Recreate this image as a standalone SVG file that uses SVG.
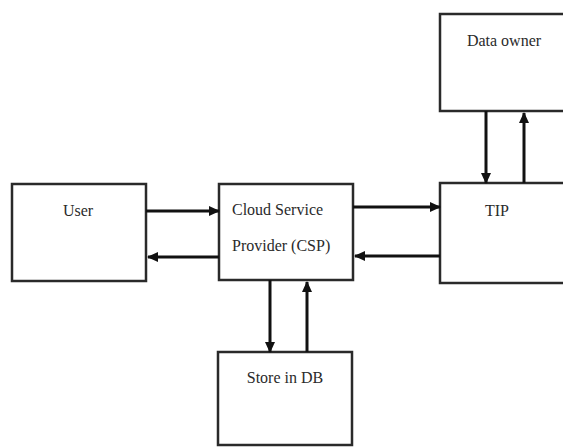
<svg xmlns="http://www.w3.org/2000/svg" width="563" height="447" viewBox="0 0 563 447">
<defs>
<marker id="ah" markerWidth="11" markerHeight="10" refX="10" refY="5" orient="auto" markerUnits="userSpaceOnUse" viewBox="0 0 11 10">
<path d="M0,0 L11,5 L0,10 Z" fill="#111"/>
</marker>
<style>
.box{fill:#fff;stroke:#2a2a2a;stroke-width:2.5}
.lbl{font-family:"Liberation Serif",serif;font-size:16px;fill:#2a2a2a}
.con{stroke:#111;stroke-width:3;fill:none;marker-end:url(#ah)}
</style>
</defs>
<rect width="563" height="447" fill="#fff"/>
<g id="user">
<rect class="box" x="12" y="184" width="134" height="97"/>
<text class="lbl" x="78" y="216" text-anchor="middle">User</text>
</g>
<g id="csp">
<rect class="box" x="219" y="184" width="134" height="96"/>
<text class="lbl" x="232" y="215">Cloud Service</text>
<text class="lbl" x="232" y="251">Provider (CSP)</text>
</g>
<g id="tip">
<rect class="box" x="440" y="183" width="140" height="100"/>
<text class="lbl" x="497" y="216" text-anchor="middle">TIP</text>
</g>
<g id="dataowner">
<rect class="box" x="440" y="14" width="140" height="97"/>
<text class="lbl" x="504" y="46" text-anchor="middle">Data owner</text>
</g>
<g id="db">
<rect class="box" x="218" y="352" width="134" height="93"/>
<text class="lbl" x="285" y="383" text-anchor="middle">Store in DB</text>
</g>
<g id="connectors">
<line class="con" x1="146" y1="211" x2="219" y2="211"/>
<line class="con" x1="219" y1="257" x2="148" y2="257"/>
<line class="con" x1="353" y1="207" x2="440" y2="207"/>
<line class="con" x1="440" y1="256" x2="355" y2="256"/>
<line class="con" x1="486" y1="111" x2="486" y2="183"/>
<line class="con" x1="524" y1="183" x2="524" y2="113"/>
<line class="con" x1="270" y1="280" x2="270" y2="352"/>
<line class="con" x1="307" y1="352" x2="307" y2="282"/>
</g>
</svg>
